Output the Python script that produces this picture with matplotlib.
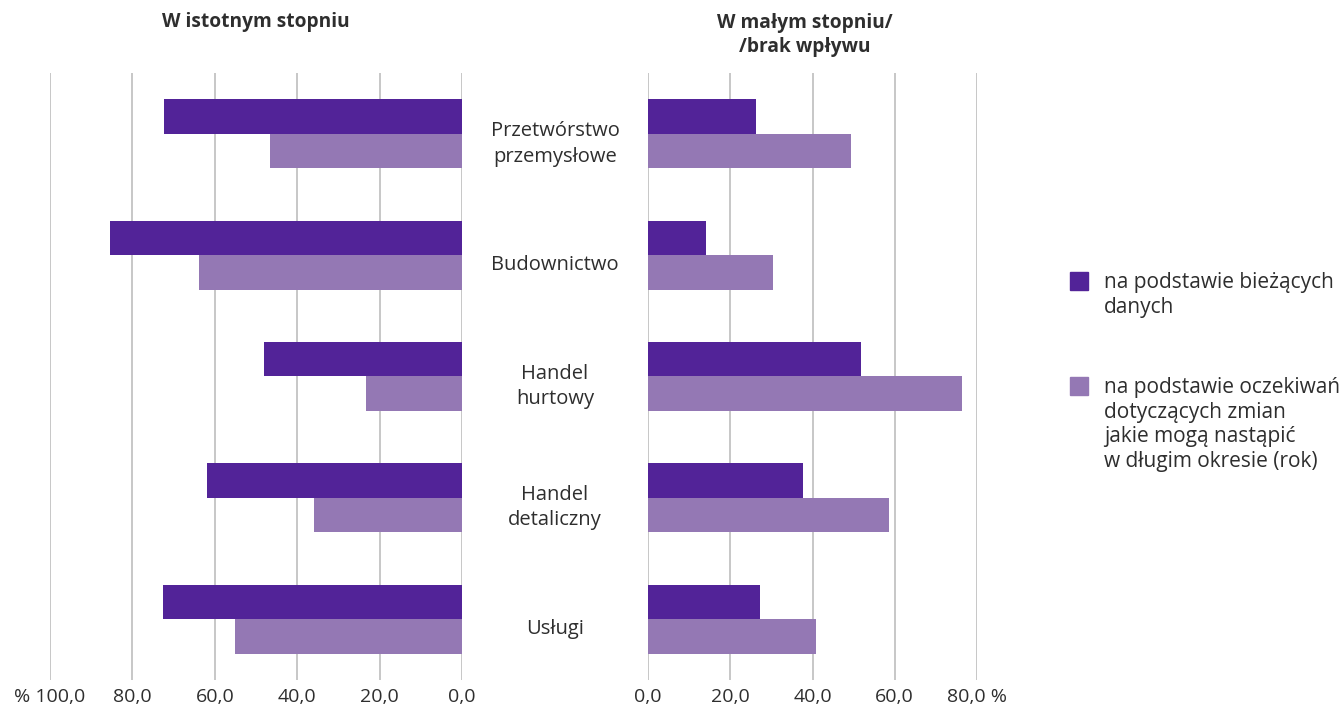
import numpy as np
import matplotlib.pyplot as plt

plt.rcParams['font.family'] = ['Open Sans', 'DejaVu Sans']

# Dane
kategorie = ["Przetwórstwo\nprzemysłowe", "Budownictwo", "Handel\nhurtowy",
             "Handel\ndetaliczny", "Usługi"]
istotny_biezace = [72.3, 85.4, 48.1, 61.9, 72.6]
istotny_oczek = [46.6, 63.8, 23.3, 35.9, 55.1]
maly_biezace = [26.3, 14.1, 51.8, 37.7, 27.3]
maly_oczek = [49.4, 30.4, 76.4, 58.6, 40.9]
lewe_ticki = [100, 80, 60, 40, 20, 0]
lewe_etykiety = ["% 100,0", "80,0", "60,0", "40,0", "20,0", "0,0"]
prawe_ticki = [0, 20, 40, 60, 80]
prawe_etykiety = ["0,0", "20,0", "40,0", "60,0", "80,0 %"]
legenda = ["na podstawie bieżących\ndanych",
           "na podstawie oczekiwań\ndotyczących zmian\njakie mogą nastąpić\nw długim okresie (rok)"]

ciemny = "#522398"
jasny = "#9478b4"
szary = "#bdbdbd"
tekst = "#2e2e2e"

fig = plt.figure(figsize=(13.44, 7.08), dpi=100)
axL = fig.add_axes([50/1344, 1-680/708, 412/1344, 607/708])
axR = fig.add_axes([648/1344, 1-680/708, 329/1344, 607/708])

y = np.arange(len(kategorie))
h = 0.285

axL.barh(y - h/2, istotny_biezace, height=h, color=ciemny, zorder=3)
axL.barh(y + h/2, istotny_oczek, height=h, color=jasny, zorder=3)
axL.set_xlim(100, 0)

axR.barh(y - h/2, maly_biezace, height=h, color=ciemny, zorder=3)
axR.barh(y + h/2, maly_oczek, height=h, color=jasny, zorder=3)
axR.set_xlim(0, 80)

for ax, ticks, labels in [(axL, lewe_ticki, lewe_etykiety), (axR, prawe_ticki, prawe_etykiety)]:
    ax.set_ylim(4.5, -0.5)
    ax.set_yticks([])
    ax.set_xticks(ticks)
    ax.set_xticklabels(labels, fontsize=14, color=tekst)
    ax.tick_params(axis='x', length=0, pad=6)
    for t in ticks:
        ax.axvline(t, color=szary, lw=1.2, zorder=1)
    for s in ax.spines.values():
        s.set_visible(False)

# etykiety kategorii pośrodku
for i, k in enumerate(kategorie):
    fig.text(555/1344, 1 - (144 + 121.25*i)/708, k, ha='center', va='center',
             fontsize=14.5, color=tekst, linespacing=1.35)

fig.text(256/1344, 1-22/708, "W istotnym stopniu", ha='center', va='center',
         fontsize=13.8, fontweight='bold', color=tekst)
fig.text(805/1344, 1-35/708, "W małym stopniu/\n/brak wpływu", ha='center', va='center',
         fontsize=13.8, fontweight='bold', color=tekst, linespacing=1.25)

# legenda
for (yy, kol, txt) in [(281, ciemny, legenda[0]), (386, jasny, legenda[1])]:
    fig.patches.append(plt.Rectangle((1070/1344, 1-(yy+9)/708), 18/1344, 18/708,
                                     transform=fig.transFigure, color=kol))
    fig.text(1104/1344, 1-(yy-9)/708, txt, ha='left', va='top', fontsize=15,
             color=tekst, linespacing=1.22)

plt.savefig("out.png", dpi=100)
